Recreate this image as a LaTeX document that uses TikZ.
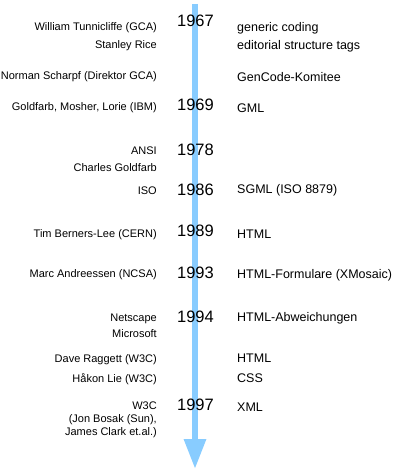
\documentclass[tikz,border=0pt]{standalone}
\usepackage{fontspec}
\setmainfont{Liberation Sans}
\usetikzlibrary{arrows.meta}
\definecolor{timeblue}{HTML}{88CCFF}
\tikzset{
  who/.style={anchor=east, align=right, inner sep=0pt, font=\fontsize{11}{13}\selectfont},
  what/.style={anchor=west, inner sep=0pt, font=\fontsize{12.5}{14}\selectfont},
  year/.style={inner sep=0pt, font=\fontsize{16.5}{18}\selectfont},
}
\begin{document}
\begin{tikzpicture}[x=1pt,y=-1pt]
  \useasboundingbox (0,0) rectangle (400,470);
  \coordinate (start) at (195,4);
  \coordinate (end) at (195,469);
  \draw[timeblue, line width=6pt, -{Triangle[length=30pt,width=21pt]}] (start) -- (end);
  % years on the time line
  \foreach \yr/\y [count=\i] in {
    1967/21, 1969/105, 1978/150, 1986/190,
    1989/231, 1993/273, 1994/317, 1997/405} {
      \node[year] (y\i) at (195.5,\y) {\yr};
    }
  % people / organisations
  \foreach \txt/\y [count=\i] in {
    William Tunnicliffe (GCA)/28,
    Stanley Rice/46,
    Norman Scharpf (Direktor GCA)/77,
    {Goldfarb, Mosher, Lorie (IBM)}/108,
    ANSI/151,
    Charles Goldfarb/168,
    ISO/191,
    Tim Berners-Lee (CERN)/235,
    Marc Andreessen (NCSA)/275,
    Netscape/319,
    Microsoft/334,
    Dave Raggett (W3C)/360,
    Håkon Lie (W3C)/379,
    {W3C\\(Jon Bosak (Sun),\\James Clark et.al.)}/420} {
      \node[who] (l\i) at (157,\y) {\txt};
    }
  % results
  \foreach \txt/\y [count=\i] in {
    generic coding/28,
    editorial structure tags/46,
    GenCode-Komitee/77,
    GML/108,
    SGML (ISO 8879)/190,
    HTML/234,
    HTML-Formulare (XMosaic)/275,
    HTML-Abweichungen/318,
    HTML/358,
    CSS/378,
    XML/407} {
      \node[what] (r\i) at (237,\y) {\txt};
    }
\end{tikzpicture}
\end{document}
